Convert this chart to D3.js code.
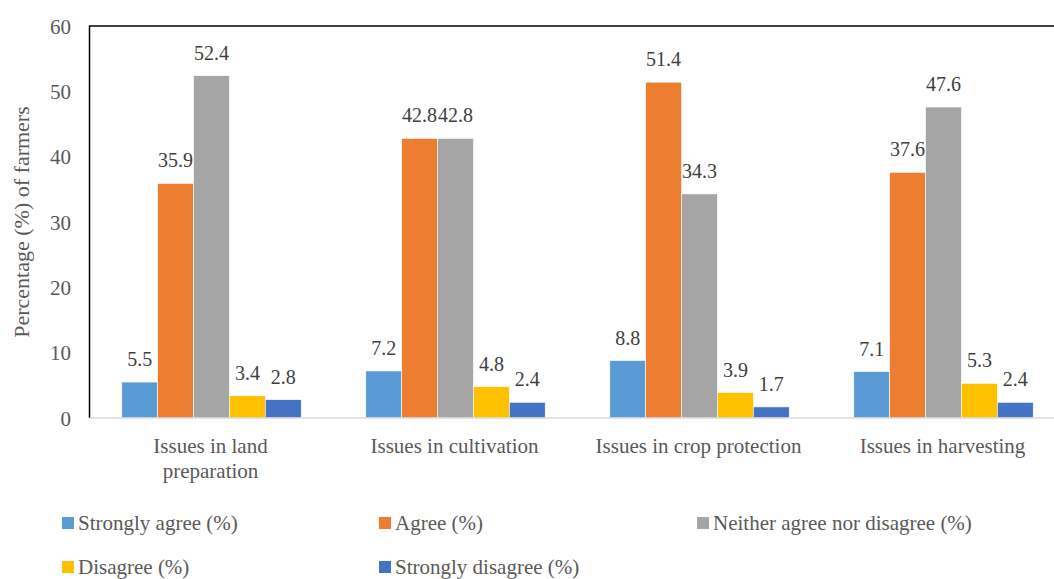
<!DOCTYPE html>
<html>
<head>
<meta charset="utf-8">
<script src="https://cdn.jsdelivr.net/npm/d3@7"></script>
</head>
<body style="margin:0">
<div id="graph"></div>
<script>
var categories=[['Issues in land','preparation'],['Issues in cultivation'],['Issues in crop protection'],['Issues in harvesting']]
var seriesNames=['Strongly agree (%)','Agree (%)','Neither agree nor disagree (%)','Disagree (%)','Strongly disagree (%)']
var seriesColors=['#5b9bd5','#ed7d31','#a5a5a5','#ffc000','#4472c4']
var stronglyAgree=[5.5,7.2,8.8,7.1]
var agree=[35.9,42.8,51.4,37.6]
var neither=[52.4,42.8,34.3,47.6]
var disagree=[3.4,4.8,3.9,5.3]
var stronglyDisagree=[2.8,2.4,1.7,2.4]
var yTicks=[0,10,20,30,40,50,60]

var series=[stronglyAgree,agree,neither,disagree,stronglyDisagree]
var fontName='Liberation Serif, serif'

var svg=d3.select('#graph').append('svg').attr('width',1054).attr('height',579)

var pLeft=89.5,pRight=1065.5,pTop=26,pBottom=418
var x=d3.scaleBand().domain(d3.range(categories.length)).range([pLeft,pRight]).paddingInner(0).paddingOuter(0)
var xs=d3.scaleBand().domain(d3.range(series.length)).range([0,x.bandwidth()]).paddingOuter(0.9).paddingInner(0)
var y=d3.scaleLinear().domain([0,60]).range([pBottom,pTop])

// plot border, black top and left
svg.append('path').attr('d','M'+pLeft+' '+pBottom+' V'+pTop+' H'+pRight).attr('fill','none').attr('stroke','#000').attr('stroke-width',1.5)

// bars and value labels
for(var s=0;s<series.length;s++){
  var g=svg.append('g').attr('fill',seriesColors[s])
  g.selectAll('rect').data(series[s]).enter().append('rect')
    .attr('x',function(d,i){return x(i)+xs(s)})
    .attr('y',function(d){return y(d)})
    .attr('width',xs.bandwidth())
    .attr('height',function(d){return y(0)-y(d)})
    .attr('stroke','#fff').attr('stroke-width',0.6)
  svg.selectAll('text.v'+s).data(series[s]).enter().append('text').attr('class','v'+s)
    .attr('x',function(d,i){return x(i)+xs(s)+xs.bandwidth()/2})
    .attr('y',function(d){return y(d)-16})
    .attr('text-anchor','middle').attr('font-family',fontName).style('font-family',fontName).attr('font-size',20).attr('fill','#404040')
    .text(function(d){return d.toFixed(1)})
}

// category axis line, y ticks from the axis generator
svg.append('path').attr('d','M'+pLeft+' '+pBottom+' H'+pRight).attr('stroke','#d9d9d9').attr('stroke-width',1.5)
var yAxis=d3.axisLeft(y).tickValues(yTicks).tickSize(0).tickPadding(0)
var ya=svg.append('g').attr('transform','translate(71,0)').call(yAxis).attr('font-family',fontName)
ya.select('.domain').remove()
ya.selectAll('text').style('font-family',fontName).attr('font-size',21).attr('fill','#595959').attr('dy','0.34em')

for(var i=0;i<categories.length;i++){
  for(var j=0;j<categories[i].length;j++)
    svg.append('text').attr('text-anchor','middle').attr('font-family',fontName).style('font-family',fontName).attr('font-size',21).attr('fill','#595959')
      .attr('x',x(i)+x.bandwidth()/2-1).attr('y',453+j*25).text(categories[i][j])
}

svg.append('text').attr('transform','translate(29 '+(pTop+pBottom)/2+') rotate(-90)').attr('text-anchor','middle')
  .attr('font-family',fontName).style('font-family',fontName).attr('font-size',22).attr('fill','#595959').text('Percentage (%) of farmers')

// legend
var legX=[62,379,697],legY=[523,567]
for(var k=0;k<seriesNames.length;k++){
  var lx=legX[k%3],ly=legY[Math.floor(k/3)]
  svg.append('rect').attr('x',lx).attr('y',ly-6).attr('width',12).attr('height',12).attr('fill',seriesColors[k])
  svg.append('text').attr('x',lx+16).attr('y',ly+7).attr('font-family',fontName).style('font-family',fontName).attr('font-size',21).attr('fill','#595959').text(seriesNames[k])
}
</script>
</body>
</html>
